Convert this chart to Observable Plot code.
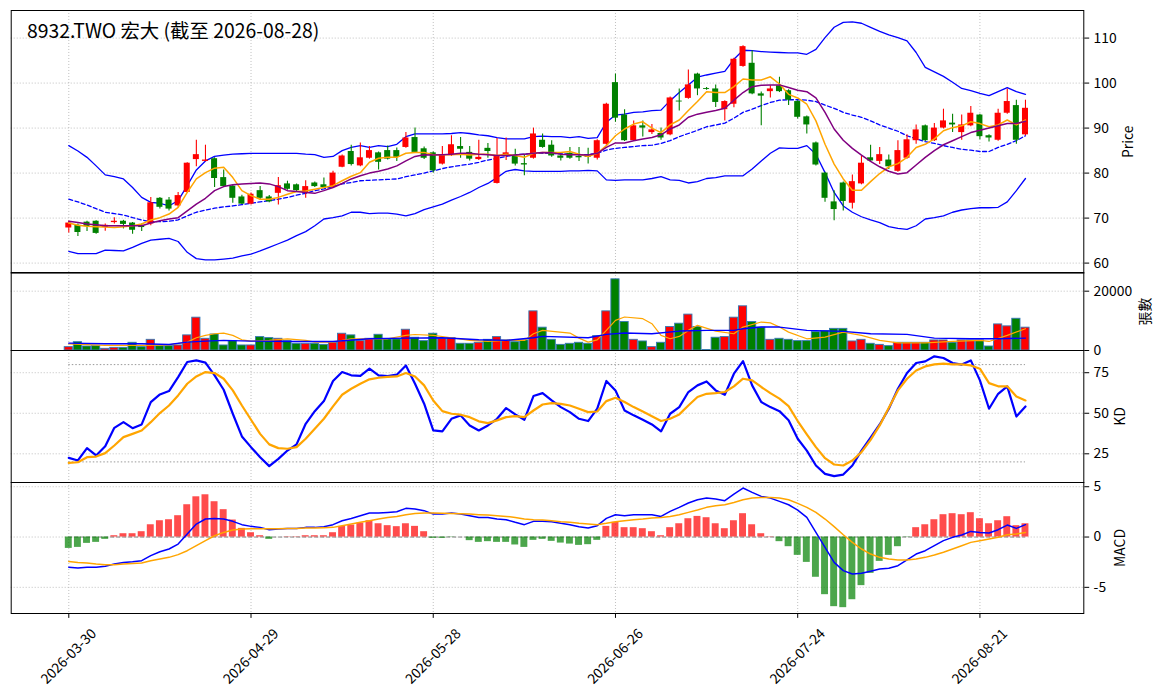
<!DOCTYPE html>
<html><head><meta charset="utf-8">
<script src="https://cdn.jsdelivr.net/npm/d3@7"></script>
<script src="https://cdn.jsdelivr.net/npm/@observablehq/plot@0.6"></script>
<style>
body{margin:0;background:#fff;}
#chart{position:relative;width:1164px;height:698px;overflow:hidden;background:#fff;}
#chart svg{position:absolute;left:0;overflow:visible;}
</style></head><body><div id="chart"></div>
<script>
const title = "8932.TWO 宏大 (截至 2026-08-28)";
const tickIndex = [0, 20, 40, 60, 80, 100];
const tickLabels = ["2026-03-30", "2026-04-29", "2026-05-28", "2026-06-26", "2026-07-24", "2026-08-21"];

const open = [67.8,68.4,69.1,69.3,67.9,69.0,69.3,68.9,68.3,68.7,74.4,74.0,72.7,75.7,83.0,82.6,83.2,79.0,77.1,74.7,73.1,76.1,74.7,75.5,77.6,77.4,75.5,77.8,77.4,76.8,81.3,84.8,81.6,83.3,84.5,85.0,85.0,85.7,87.9,85.4,84.5,82.0,83.9,85.9,84.6,83.0,85.5,77.7,83.8,83.7,82.1,83.3,87.3,86.2,83.8,84.4,83.7,83.7,83.3,86.4,100.1,92.9,87.2,90.5,89.0,88.8,88.5,96.0,96.6,102.0,98.8,98.7,94.1,95.3,103.7,104.4,97.6,98.1,99.4,98.3,95.9,92.5,86.7,80.0,73.6,77.8,73.3,77.6,83.4,82.6,82.9,80.4,83.3,87.2,90.5,87.2,90.0,91.1,89.0,90.5,92.9,88.3,87.3,93.3,95.0,88.5];
const high = [69.3,68.7,69.3,69.4,68.7,70.1,69.5,69.0,68.7,74.6,74.6,74.6,75.7,82.3,87.3,86.2,83.4,80.7,77.3,75.1,75.6,77.0,75.0,79.0,78.2,77.6,78.3,78.0,78.9,80.4,84.0,86.2,86.7,85.9,84.7,86.0,85.6,89.0,90.0,85.8,84.7,85.9,88.3,87.9,85.9,87.3,86.6,87.7,87.8,85.3,84.2,90.0,88.7,87.2,84.0,85.7,85.7,85.5,87.4,95.5,102.0,94.1,91.6,91.6,90.8,90.0,96.9,98.7,102.9,102.2,99.0,99.6,96.1,105.5,108.3,107.2,98.0,99.4,101.3,98.5,96.1,92.7,86.9,80.2,76.1,78.0,79.6,83.8,86.2,85.7,84.0,87.2,88.5,90.7,90.7,91.0,94.2,93.1,92.9,94.8,93.1,88.5,94.2,98.7,96.2,96.2];
const low = [66.7,65.9,67.0,66.4,67.1,68.7,67.6,66.4,67.0,68.3,72.0,71.6,72.4,75.5,81.4,82.5,76.8,76.9,73.3,73.0,72.9,74.1,73.4,72.9,76.2,75.9,74.4,76.8,76.6,76.6,81.2,81.6,81.4,83.1,80.7,82.9,82.6,85.5,84.4,83.0,80.0,81.8,83.7,83.3,82.7,82.8,83.3,77.6,82.8,81.6,79.4,83.1,85.5,83.5,82.7,83.1,82.6,82.0,82.9,86.2,91.3,87.0,87.0,88.0,88.6,87.3,88.3,93.8,96.4,97.2,98.4,94.6,91.6,94.5,103.5,97.4,90.5,96.7,97.9,95.0,92.0,88.7,81.6,73.5,69.4,71.6,72.0,77.4,82.5,81.9,80.8,80.2,83.1,86.4,87.0,87.0,89.8,89.0,87.3,90.3,87.4,86.9,87.1,93.1,86.4,88.3];
const close = [68.9,66.8,68.1,66.6,68.4,69.3,68.6,67.3,67.9,73.4,72.4,72.0,75.0,82.2,84.1,82.9,78.8,77.0,74.4,73.1,75.3,74.4,73.6,77.2,76.4,76.1,77.0,77.0,76.8,80.0,83.8,81.9,83.4,85.0,82.4,83.1,83.5,87.8,84.6,83.3,80.5,84.0,86.3,85.3,83.1,83.5,84.8,83.8,84.5,82.0,81.8,88.7,85.7,83.8,83.3,83.3,83.4,83.5,87.2,95.3,92.2,87.2,90.5,90.0,89.6,87.8,96.7,95.8,99.6,98.7,98.6,95.7,95.9,105.3,108.1,97.6,97.1,98.7,98.1,96.2,92.4,90.7,81.8,74.4,71.9,73.7,78.1,82.2,82.7,84.1,81.4,85.0,87.4,89.6,87.2,90.0,91.6,90.7,90.7,93.3,88.1,87.8,93.3,95.9,87.3,94.4];
const volume = [1130,2800,1350,1470,565,900,900,2600,1130,3600,1470,1470,1700,5100,11070,3950,5400,1700,3160,1700,1700,4520,4180,3950,3160,2260,2260,2260,1900,2600,5650,5100,3160,3950,5300,3730,3730,7000,4300,3160,5650,3950,4180,2260,2260,2600,3600,4520,3400,2800,3400,13200,7700,3600,1900,2260,2600,2260,4860,13200,24000,9600,3600,3050,1130,2600,7900,9040,12100,7900,150,4300,4520,11070,14900,9600,7700,3600,3950,3600,3160,3160,6200,6550,7300,7300,3050,3600,2260,1900,1470,2600,2600,2600,2600,3400,3400,2600,3400,3400,3400,1350,8800,8140,10700,7700];

const ma5 = [68.9,68.4,68.2,68.1,68.0,67.9,68.1,68.3,68.7,69.6,70.1,70.9,72.4,75.7,78.7,80.1,81.1,81.3,79.0,76.1,75.0,74.2,74.2,74.6,75.3,75.9,76.0,76.4,76.8,77.2,78.3,79.3,80.1,82.4,83.3,83.5,83.5,84.4,84.6,84.6,84.1,84.1,84.1,84.2,84.0,84.2,84.2,83.9,84.2,83.9,83.5,84.4,84.6,84.6,84.6,84.8,84.2,83.7,84.4,86.1,88.3,89.8,90.9,91.4,90.0,89.0,90.7,91.8,93.9,95.9,98.1,97.9,97.9,99.2,100.9,100.7,100.7,101.4,99.8,97.5,96.7,95.3,91.6,86.4,82.0,78.7,76.2,76.2,78.1,79.9,81.4,82.1,83.5,85.7,86.4,87.6,89.4,90.1,90.5,91.4,91.0,90.3,90.7,91.8,90.7,91.8];
const ma10 = [69.3,69.0,68.7,68.5,68.3,68.3,68.3,68.3,68.3,68.9,69.4,69.8,70.1,71.6,73.1,74.4,76.1,77.0,77.4,77.6,77.7,77.8,77.6,77.0,76.1,75.9,75.7,75.5,76.1,76.8,77.7,78.7,79.4,80.0,80.4,80.9,81.6,82.7,83.7,84.1,84.0,84.1,84.2,84.4,84.4,84.2,84.1,83.9,83.9,84.0,84.2,84.4,84.6,84.5,84.2,84.1,84.1,84.0,84.4,85.7,86.7,86.7,87.2,87.6,87.9,88.5,89.8,90.7,92.4,93.1,93.5,93.9,94.4,96.2,97.9,99.2,99.5,99.6,99.6,99.0,98.4,98.1,96.7,93.5,89.8,87.3,85.5,84.0,82.6,81.4,80.4,79.8,80.1,81.8,83.5,85.0,86.3,87.2,88.1,89.0,89.5,90.0,90.5,91.0,91.0,91.5];
const ma20 = [74.2,73.6,72.9,72.1,71.3,71.0,70.7,70.1,69.6,69.2,69.2,69.3,69.6,70.5,71.3,71.8,72.2,72.5,72.7,73.0,73.3,73.6,73.9,74.2,74.6,75.1,75.5,76.1,76.5,77.0,77.6,77.9,78.3,78.4,78.5,78.6,78.7,79.2,79.6,80.0,80.5,81.0,81.4,81.7,82.0,82.4,82.9,83.3,83.7,84.1,84.2,84.4,84.4,84.4,84.3,84.2,84.1,84.1,84.4,85.1,85.5,85.7,85.9,86.1,86.2,86.6,87.2,88.1,88.8,89.5,90.3,90.7,91.1,92.2,93.5,94.2,95.0,95.7,96.2,96.3,96.3,96.2,95.9,95.1,94.4,93.5,92.9,92.4,91.6,90.7,90.0,89.3,88.3,87.6,87.0,86.6,86.1,85.7,85.3,85.1,84.8,84.8,85.7,86.4,87.2,88.3];
const bbUpper = [86.1,84.9,83.5,81.6,79.6,79.2,78.7,76.8,74.6,73.5,73.3,72.7,73.9,77.2,80.7,82.7,83.7,84.0,84.2,84.3,84.4,84.4,84.4,84.4,84.4,84.4,84.2,84.1,83.5,83.7,85.0,85.7,86.1,85.7,86.1,85.9,86.4,88.1,88.7,88.7,88.7,88.7,88.8,89.0,88.8,88.5,88.3,87.9,87.6,87.6,87.6,88.1,88.2,88.1,88.1,87.9,88.1,87.7,87.9,91.3,92.9,93.1,93.5,93.6,93.9,94.0,96.1,97.9,99.6,101.3,101.8,102.2,102.6,105.3,107.3,107.2,107.0,106.9,106.8,106.7,106.7,106.4,107.5,110.1,112.4,113.5,113.6,113.3,112.4,111.5,110.7,110.1,109.4,106.8,103.5,102.5,101.5,100.2,98.8,98.3,97.7,97.2,98.1,99.0,98.1,97.5];
const bbLower = [62.6,62.1,62.1,62.1,62.9,62.8,62.7,63.5,64.4,65.1,65.3,65.5,64.8,62.4,61.0,60.7,60.7,60.9,61.1,61.6,62.0,62.7,63.5,64.3,65.1,66.1,67.0,68.3,69.8,70.1,70.5,71.3,71.3,71.0,71.1,71.1,70.9,70.5,71.0,71.9,72.5,73.1,74.0,74.8,75.7,76.8,77.7,79.0,80.4,80.8,80.5,80.4,80.4,80.4,80.4,80.5,80.5,80.6,80.5,78.5,78.4,78.5,78.5,78.5,78.8,79.2,78.5,78.4,77.8,78.1,78.8,79.0,79.4,79.4,79.4,80.9,82.7,84.4,85.6,85.5,85.5,86.1,84.2,80.1,75.7,72.7,71.3,70.3,69.6,69.0,68.1,67.7,67.5,68.3,69.8,70.1,70.5,71.3,71.8,72.1,72.3,72.3,72.4,73.6,76.1,78.8];

const volMa5 = [[0,2260],[4,1700],[8,1700],[11,1920],[13,2830],[14,4300],[15,5100],[16,5650],[17,5880],[18,5100],[19,3600],[20,3160],[22,3400],[24,3950],[26,3400],[27,2830],[29,2830],[31,3950],[33,3950],[35,3950],[37,5100],[38,5400],[40,5100],[42,4300],[44,3400],[46,3050],[48,3400],[50,3400],[51,5650],[52,6780],[55,5880],[56,4180],[57,2830],[58,3600],[59,6780],[60,10170],[61,11300],[63,10730],[64,9040],[65,5100],[66,3950],[67,4750],[68,6780],[69,8480],[71,6550],[73,5650],[74,7900],[76,9600],[77,9300],[78,7900],[79,6200],[81,3950],[83,4520],[85,6200],[87,5100],[89,3400],[91,2600],[94,2600],[97,3050],[100,3400],[101,3050],[103,5100],[105,7350]];
const volMa20 = [[0,2490],[4,2260],[8,2260],[11,2030],[13,2830],[15,3160],[17,3400],[20,3160],[25,3050],[29,3050],[33,3950],[37,4180],[41,4300],[45,3600],[48,3400],[51,4300],[52,4750],[57,4300],[59,5420],[61,5880],[64,5650],[67,6550],[70,6780],[73,6780],[74,7350],[76,7900],[78,7900],[81,6780],[85,6440],[88,5650],[92,5420],[95,4180],[99,3950],[102,3950],[105,4180]];

const kLine = [22.5,20.9,28.5,24.0,29.7,41.0,44.5,40.8,43.1,56.9,61.6,63.7,72.3,81.6,82.6,81.2,73.4,64.5,49.7,35.7,29.1,22.9,17.4,21.9,27.0,30.8,43.5,51.3,57.5,69.9,75.4,73.4,73.1,77.5,73.4,72.9,73.8,79.5,68.2,55.9,39.4,38.8,46.6,48.7,42.5,39.4,42.5,46.6,53.2,49.3,46.0,60.6,62.4,57.9,53.8,50.7,46.6,45.2,52.8,69.9,64.1,51.7,48.7,46.0,43.1,38.8,49.7,53.8,63.1,67.2,69.6,64.1,61.4,74.4,82.2,67.2,56.9,53.8,51.3,45.7,34.3,27.0,17.8,12.6,11.2,12.2,17.8,27.0,34.9,43.1,52.8,65.1,74.8,81.0,82.0,85.1,84.1,81.0,80.0,82.6,70.3,52.8,62.0,66.6,48.0,54.2];
const dLine = [19.4,19.8,22.9,23.3,25.4,30.1,35.3,37.3,39.4,44.5,50.1,54.8,61.0,68.2,72.7,75.4,74.8,71.3,64.1,54.8,46.0,37.3,30.8,28.5,28.1,29.1,34.3,40.4,46.6,54.2,61.4,65.1,68.2,70.9,71.9,72.4,72.7,74.8,72.7,67.2,57.9,51.3,49.7,49.1,47.6,45.0,43.9,45.6,47.6,48.2,47.6,51.7,55.4,56.3,55.8,54.8,52.8,50.7,51.1,57.5,59.6,56.9,53.8,51.1,48.2,45.2,46.6,49.3,54.8,60.0,62.0,62.4,63.1,66.6,71.3,70.3,66.2,62.4,59.0,54.4,45.2,37.0,29.1,22.3,18.4,17.8,20.9,26.0,33.6,42.5,53.4,64.1,71.3,76.4,78.9,80.1,80.6,80.1,80.1,79.5,77.5,68.6,66.6,66.6,60.4,57.9];

const dif = [-3.01,-3.08,-3.01,-3.01,-2.91,-2.68,-2.52,-2.45,-2.35,-1.85,-1.46,-1.19,-0.70,0.30,1.29,1.79,1.85,1.79,1.56,1.23,1.06,0.96,0.73,0.79,0.86,0.86,0.96,0.96,1.03,1.23,1.62,1.85,2.12,2.38,2.38,2.45,2.52,2.85,2.78,2.62,2.28,2.28,2.38,2.28,2.12,1.95,1.95,1.79,1.72,1.46,1.23,1.56,1.56,1.52,1.36,1.23,1.03,0.89,1.13,1.85,2.22,2.12,2.22,2.22,2.22,2.05,2.55,2.95,3.38,3.71,3.87,3.77,3.61,4.27,4.87,4.44,4.04,3.87,3.54,3.21,2.68,1.95,0.46,-1.03,-2.52,-3.34,-3.68,-3.61,-3.41,-3.18,-3.11,-2.85,-2.28,-1.69,-1.36,-0.86,-0.36,-0.03,0.20,0.56,0.46,0.40,0.73,1.19,0.86,1.23];
const dea = [-2.42,-2.52,-2.58,-2.68,-2.75,-2.75,-2.68,-2.62,-2.58,-2.35,-2.19,-2.02,-1.75,-1.36,-0.86,-0.36,0.13,0.46,0.70,0.79,0.82,0.83,0.83,0.83,0.86,0.86,0.89,0.90,0.92,0.96,1.13,1.29,1.46,1.62,1.79,1.95,2.05,2.22,2.35,2.38,2.38,2.36,2.35,2.32,2.28,2.22,2.18,2.12,2.05,1.95,1.79,1.72,1.69,1.62,1.52,1.46,1.36,1.29,1.23,1.36,1.52,1.62,1.72,1.79,1.89,1.95,2.05,2.22,2.45,2.68,2.95,3.11,3.21,3.44,3.71,3.87,3.94,3.94,3.87,3.70,3.34,2.95,2.45,1.79,1.03,0.23,-0.53,-1.19,-1.69,-2.02,-2.19,-2.28,-2.28,-2.19,-2.02,-1.79,-1.52,-1.19,-0.86,-0.53,-0.36,-0.20,-0.03,0.23,0.30,0.46];
const macdHist = [-1.13,-1.03,-0.63,-0.53,-0.23,0.13,0.33,0.33,0.53,1.22,1.62,1.72,2.12,3.21,4.0,4.2,3.51,2.72,1.69,0.86,0.43,0.13,-0.23,0.0,0.03,0.03,0.13,0.13,0.13,0.43,1.06,1.19,1.39,1.62,1.32,1.13,1.03,1.32,1.06,0.53,-0.13,-0.13,-0.03,0.0,-0.36,-0.53,-0.46,-0.53,-0.53,-0.79,-1.03,-0.33,-0.23,-0.43,-0.6,-0.7,-0.83,-0.76,-0.33,1.06,1.46,0.93,0.93,0.83,0.53,0.13,0.93,1.32,1.82,2.05,1.92,1.32,0.83,1.62,2.32,1.22,0.33,0.03,-0.46,-0.96,-1.82,-2.52,-4.0,-5.73,-6.92,-7.02,-6.23,-4.83,-3.61,-2.42,-1.82,-0.96,-0.03,0.93,1.22,1.72,2.22,2.32,2.22,2.42,1.82,1.32,1.62,2.02,1.13,1.32];

// ---------- rendering ----------
const W = 1164, ML = 10.7, MR = 80.7;
const FONT = "'Noto Sans CJK TC','Noto Sans CJK SC','Noto Sans',sans-serif";
const xDomain = [-6.32, 111.4];
const lastIdx = close.length - 1;
const RED = "#ff0000", GREEN = "#008000";

const bars = open.map((o, i) => ({i, open: o, high: high[i], low: low[i], close: close[i], vol: volume[i], up: close[i] >= o}));
const upBars = bars.filter(d => d.up), downBars = bars.filter(d => !d.up);
const ser = arr => arr.map((v, i) => ({i, v}));
const prs = arr => arr.map(([i, v]) => ({i, v}));
const gridOpt = {stroke: "#b0b0b0", strokeOpacity: 1, strokeDasharray: "1,2", strokeWidth: 0.8};
const chart = document.getElementById("chart");

function panel({top, height, marginBottom = 0, yDomain, yTicks, yFmt, label, labelDx, marks, extra = []}) {
  const svg = Plot.plot({
    width: W, height: height + marginBottom,
    marginLeft: ML, marginRight: MR, marginTop: 0, marginBottom,
    style: {fontSize: "13.9px", fontFamily: FONT, overflow: "visible", background: "transparent", color: "#000"},
    x: {domain: xDomain, axis: null},
    y: {domain: yDomain, axis: null},
    marks: [
      Plot.gridX(tickIndex, gridOpt),
      Plot.gridY(yTicks, gridOpt),
      ...marks,
      Plot.axisY(yTicks, {anchor: "right", tickSize: 4.9, tickPadding: 4.9, tickFormat: yFmt, label: null}),
      Plot.text([label], {frameAnchor: "right", dx: labelDx, rotate: -90, text: d => d, textAnchor: "middle", lineAnchor: "middle"}),
      ...extra,
      Plot.frame({stroke: "#000", strokeWidth: 1})
    ]
  });
  svg.style.top = top + "px";
  chart.append(svg);
}

const lineOf = (data, stroke, w, dash) => Plot.line(data, {x: "i", y: "v", stroke, strokeWidth: w, strokeDasharray: dash});

// Price panel
panel({
  top: 9.7, height: 262.6, yDomain: [57.78, 116.13], yTicks: [60, 70, 80, 90, 100, 110], yFmt: d => String(d),
  label: "Price", labelDx: 44.7,
  marks: [
    lineOf(ser(bbUpper), "#0000ff", 1.3),
    lineOf(ser(bbLower), "#0000ff", 1.3),
    lineOf(ser(ma20), "#0000ff", 1.3, "4,2.5"),
    Plot.ruleX(upBars, {x: "i", y1: "low", y2: "high", stroke: RED, strokeWidth: 1.1}),
    Plot.ruleX(downBars, {x: "i", y1: "low", y2: "high", stroke: GREEN, strokeWidth: 1.1}),
    Plot.rect(upBars, {x1: d => d.i - 0.33, x2: d => d.i + 0.33, y1: "open", y2: "close", fill: RED}),
    Plot.rect(downBars, {x1: d => d.i - 0.33, x2: d => d.i + 0.33, y1: "open", y2: "close", fill: GREEN}),
    lineOf(ser(ma5), "#ffa500", 1.5),
    lineOf(ser(ma10), "#800080", 1.5)
  ],
  extra: [
    Plot.text([title], {frameAnchor: "top-left", dx: 15.8, dy: 21.5, text: d => d, fontSize: 19.4, fontWeight: "normal", textAnchor: "start", lineAnchor: "middle"})
  ]
});

// Volume panel
panel({
  top: 272.3, height: 78, yDomain: [0, 26300], yTicks: [0, 20000], yFmt: d => String(d),
  label: "張數", labelDx: 61.7,
  marks: [
    Plot.rect(upBars, {x1: d => d.i - 0.45, x2: d => d.i + 0.45, y1: 0, y2: "vol", fill: RED, stroke: "#3478b4", strokeWidth: 0.9}),
    Plot.rect(downBars, {x1: d => d.i - 0.45, x2: d => d.i + 0.45, y1: 0, y2: "vol", fill: GREEN, stroke: "#3478b4", strokeWidth: 0.9}),
    lineOf(prs(volMa5), "#ffa500", 1.2),
    lineOf(prs(volMa20), "#0000ff", 1.4)
  ]
});

// KD panel
panel({
  top: 350.3, height: 132, yDomain: [7.3, 88.7], yTicks: [25, 50, 75], yFmt: d => String(d),
  label: "KD", labelDx: 36.7,
  marks: [
    Plot.ruleY([80, 20], {x1: 0, x2: lastIdx, stroke: "#999", strokeDasharray: "1.5,2", strokeWidth: 1}),
    lineOf(ser(kLine), "#0000ff", 2.2),
    lineOf(ser(dLine), "#ffa500", 2.2)
  ]
});

// MACD panel
const histData = ser(macdHist);
panel({
  top: 482.3, height: 131, marginBottom: 85, yDomain: [-7.6, 5.42], yTicks: [-5, 0, 5], yFmt: d => String(d),
  label: "MACD", labelDx: 36.7,
  marks: [
    Plot.ruleY([0], {x1: 0, x2: lastIdx, stroke: "#808080", strokeDasharray: "4,2", strokeWidth: 1}),
    Plot.rect(histData.filter(d => d.v >= 0), {x1: d => d.i - 0.38, x2: d => d.i + 0.38, y1: 0, y2: "v", fill: RED, fillOpacity: 0.7}),
    Plot.rect(histData.filter(d => d.v < 0), {x1: d => d.i - 0.38, x2: d => d.i + 0.38, y1: 0, y2: "v", fill: GREEN, fillOpacity: 0.7}),
    lineOf(ser(dif), "#0000ff", 1.5),
    lineOf(ser(dea), "#ffa500", 1.5)
  ],
  extra: [
    Plot.axisX(tickIndex, {anchor: "bottom", tickSize: 4.9, tickFormat: () => "", label: null}),
    Plot.text(tickIndex, {x: d => d, frameAnchor: "bottom", dy: 43, rotate: -45, text: (d, j) => tickLabels[j], textAnchor: "middle", lineAnchor: "middle"})
  ]
});
</script></body></html>
